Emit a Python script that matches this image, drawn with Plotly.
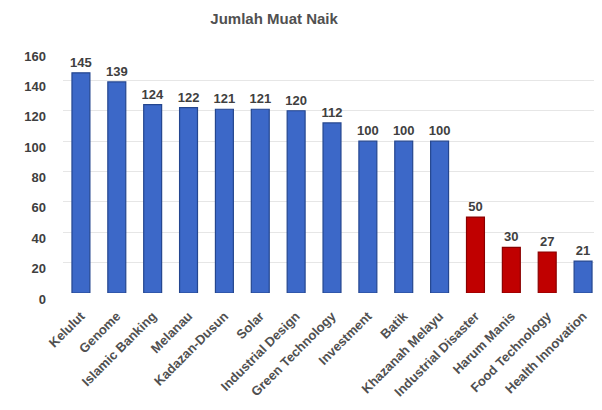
import plotly.graph_objects as go

categories = ["Kelulut", "Genome", "Islamic Banking", "Melanau", "Kadazan-Dusun", "Solar",
              "Industrial Design", "Green Technology", "Investment", "Batik", "Khazanah Melayu",
              "Industrial Disaster", "Harum Manis", "Food Technology", "Health Innovation"]
values = [145, 139, 124, 122, 121, 121, 120, 112, 100, 100, 100, 50, 30, 27, 21]
is_red = [False]*11 + [True, True, True, False]
y_ticks = [0, 20, 40, 60, 80, 100, 120, 140, 160]

colors = ["#c00000" if r else "#3c68c8" for r in is_red]
line_colors = ["#8a0000" if r else "#24468f" for r in is_red]

FONT = "Liberation Sans, Arial, sans-serif"

fig = go.Figure(go.Bar(
    x=categories, y=values,
    marker=dict(color=colors, line=dict(color=line_colors, width=1.2)),
    text=[f"<b>{v}</b>" for v in values], textposition="outside",
    textfont=dict(family=FONT, size=13, color="#404040"),
    constraintext="none",
    cliponaxis=False,
))

fig.update_layout(
    width=602, height=410,
    margin=dict(l=55, r=9, t=42, b=125, autoexpand=False),
    paper_bgcolor="white", plot_bgcolor="white",
    title=dict(text="<b>Jumlah Muat Naik</b>", x=0.442, xanchor="center", y=0.975, yanchor="middle",
               font=dict(family=FONT, size=15, color="#505050")),
    bargap=0.5,
    showlegend=False,
    font=dict(family=FONT, color="#404040"),
)
fig.update_yaxes(range=[0, 160], tickvals=y_ticks, ticktext=[f"<b>{t}</b>" for t in y_ticks],
                 showgrid=True, gridcolor="#e6e6e6", zeroline=False, automargin=False,
                 tickfont=dict(size=13, color="#404040"), ticks="", ticklabelstandoff=16,
                 ticklabelshift=6)
fig.update_xaxes(tickangle=-45, ticktext=[f"<b>{c}</b>" for c in categories], tickvals=categories,
                 tickfont=dict(size=13, color="#505050"), showline=False, ticks="", automargin=False,
                 ticklabelstandoff=12)

fig.write_html("out.html")
